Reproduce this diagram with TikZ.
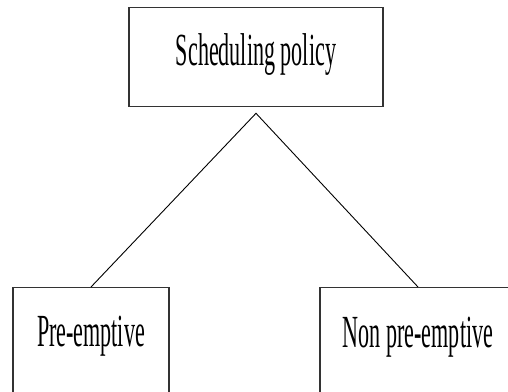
\documentclass[tikz,border=0pt]{standalone}
\usepackage{fontspec}
\setmainfont[FakeStretch=0.48]{Liberation Serif}
\begin{document}
\begin{tikzpicture}[x=1pt,y=-1pt,
  box/.style={draw=black!80,line width=1.3pt,rectangle,inner sep=0pt,anchor=north,
    font=\fontsize{46}{50}\selectfont},
  link/.style={draw=black,line width=0.9pt}]
\useasboundingbox (0,0) rectangle (508,391);
\clip (0,0) rectangle (508,391);
\fill[white] (0,0) rectangle (508,391);
\node[box,minimum width=254pt,text height=58pt,text depth=41pt] (top) at (256,7) {Scheduling policy};
\node[box,minimum width=156pt,text height=59pt,text depth=70pt] (pre) at (91,287) {Pre-emptive};
\node[box,minimum width=196pt,text height=60pt,text depth=70pt] (non) at (418,287) {Non pre-emptive};
\coordinate (apex) at ([yshift=-6pt]top.south);
\draw[link] (pre.north) -- (apex) -- (non.north);
\end{tikzpicture}
\end{document}
